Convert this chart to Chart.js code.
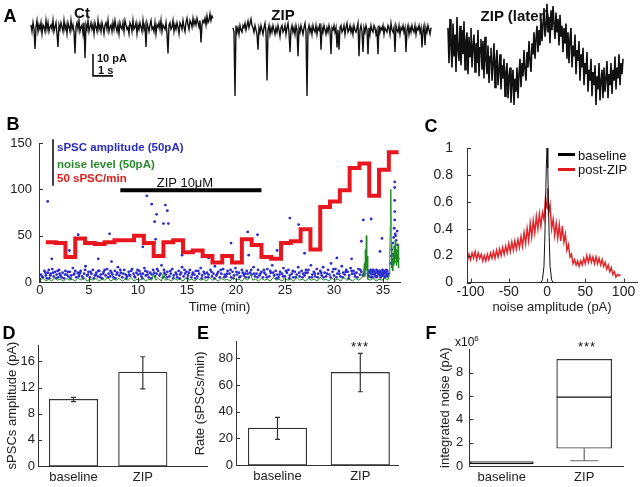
<!DOCTYPE html>
<html><head><meta charset="utf-8">
<script src="https://cdn.jsdelivr.net/npm/chart.js@4.4.1/dist/chart.umd.min.js"></script>
<style>
html,body{margin:0;padding:0;background:#fff;}
#wrap{position:relative;width:640px;height:487px;overflow:hidden;font-family:'Liberation Sans',Arial,sans-serif;color:#111;}
canvas{position:absolute;}
.t{position:absolute;white-space:nowrap;transform:translate(-50%,-50%);line-height:1;}
.l{position:absolute;white-space:nowrap;transform:translate(0,-50%);line-height:1;}
.b{font-weight:bold;}
.pl{font-weight:bold;font-size:18px;color:#000;}
.sw{position:absolute;height:3px;}
</style></head><body><div id="wrap">
<canvas id="cA" width="640" height="110" style="left:0;top:0"></canvas>
<canvas id="cB" width="410" height="210" style="left:0;top:110px"></canvas>
<canvas id="cC" width="220" height="210" style="left:420px;top:110px"></canvas>
<canvas id="cD" width="215" height="177" style="left:0;top:310px"></canvas>
<canvas id="cE" width="230" height="177" style="left:185px;top:310px"></canvas>
<canvas id="cF" width="220" height="177" style="left:420px;top:310px"></canvas>

<div class="t pl" style="left:10px;top:16px">A</div>
<div class="t b" style="left:82px;top:12px;font-size:15px">Ct</div>
<div class="t b" style="left:283px;top:14px;font-size:15px">ZIP</div>
<div class="t b" style="left:515px;top:15px;font-size:15px">ZIP (later)</div>
<div class="l b" style="left:97px;top:58px;font-size:11px">10 pA</div>
<div class="l b" style="left:98px;top:70px;font-size:11px">1 s</div>

<div class="t pl" style="left:13px;top:124px">B</div>
<div class="l b" style="left:57px;top:148px;font-size:11.5px;color:#2b2bc0">sPSC amplitude (50pA)</div>
<div class="l b" style="left:57px;top:165px;font-size:11.5px;color:#2a8a2a">noise level (50pA)</div>
<div class="l b" style="left:57px;top:179px;font-size:11.5px;color:#e01b1b">50 sPSC/min</div>
<div class="t" style="left:185px;top:182px;font-size:13px">ZIP 10&mu;M</div>

<div class="t pl" style="left:431px;top:126px">C</div>
<div class="sw" style="left:558px;top:153px;width:17px;background:#000"></div>
<div class="l" style="left:578px;top:154.5px;font-size:13px">baseline</div>
<div class="sw" style="left:558px;top:167.5px;width:17px;background:#e01b1b"></div>
<div class="l" style="left:578px;top:169px;font-size:13px">post-ZIP</div>

<div class="t pl" style="left:9px;top:333px">D</div>
<div class="t pl" style="left:203px;top:333px">E</div>
<div class="t pl" style="left:431px;top:333px">F</div>
<div class="t" style="left:360px;top:346px;font-size:13px;letter-spacing:1px">***</div>
<div class="t" style="left:587px;top:346px;font-size:13px;letter-spacing:1px">***</div>
<div class="l" style="left:455px;top:341px;font-size:12px">x10<span style="font-size:8px;vertical-align:5px">6</span></div>
</div>
<script>
// ---------- DATA ----------
// Panel A: current traces (pA, relative to trace baseline), sampled every 0.05 s
const sampleDt = 0.05;
const ctTrace = [
 1,-2,2,-1,-10,0,3,-2,1,-1, 2,-3,1,0,-2,3,-1,2,-2,0, 1,-1,3,-2,0,2,-3,-9,1,-1,
 2,0,-2,3,-1,1,-3,2,0,-2, 3,-1,1,-2,-12,0,2,-1,3,-2, 0,1,-3,2,-14,1,-1,3,-2,0,
 2,-1,1,-3,2,0,-2,3,-1,1, -2,2,0,-3,1,2,-1,3,-2,0, 1,-2,2,-1,3,0,-2,1,-3,2,
 0,-1,2,-2,3,1,-1,0,-3,2, 1,-2,3,-1,0,2,-3,1,-1,2, 0,-2,3,-1,1,-9,2,0,-2,1,
 3,-1,0,-2,2,-3,1,0,2,-1, 3,-2,1,0,-1,2,-3,-12,1,2, -1,0,3,-2,1,-1,2,0,-3,2,
 1,-1,3,0,-2,2,4,1,-1,3, 2,0,4,1,3,1,4,2,0,3, -7,1,3,2,4,1,5,2,3,6, 3,5,4];
const zipTrace = [
 1,-1,-30,2,-1,1,-2,2,0,-1, 2,1,3,0,2,4,1,3,5,2, 1,-1,2,0,-2,-9,1,-1,2,0,
 -2,1,3,-1,-23,0,2,-2,1,-1, 2,0,-2,1,-1,2,0,-3,1,2, -1,0,2,-2,1,3,-1,-10,0,2,
 -1,1,-2,2,0,-12,1,-1,2,0, -2,1,3,-1,-30,0,2,-1,1,-2, 2,0,-1,2,-2,1,0,3,-9,1,
 -1,2,0,-2,1,-1,2,0,-11,1, 0,2,-1,1,-8,0,-9,1,2,-1, 0,2,-2,1,3,-1,0,2,-1,1,
 -2,2,0,-1,1,3,-12,0,2,-1, -10,1,-1,2,0,-11,1,-2,2,0, -1,2,1,-2,0,-11,2,-1,1,0,
 2,-2,1,0,-1,2,1,-2,3,0, -1,1,-10,2,0,-1,2,-2,1,0, 2,-1,1,-10,0,2,-2,1,-1,2,
 0,-1,2,-2,1,0,2,-1,1,-8, 0,2,-7,1,-1,2,0,-2,1];
const zipLaterTrace = [
 10,-6,14,2,-8,12,-3,7,-10,15,0,-5,11,
 -7,9,-2,13,-9,4,8,-11,6,-3,10,-8,2,
 7,-10,3,-6,9,-12,1,5,-9,4,-13,6,-4,
 -11,2,-15,-3,1,-14,-6,3,-17,-5,0,-16,-9,
 -2,-18,-7,-13,-4,-21,-10,-6,-22,-12,-8,-24,-15,
 -9,-25,-13,-19,-8,-22,-11,-4,-17,-6,-12,0,-9,
 -14,-1,-8,4,-5,-10,3,-2,8,-4,5,11,-1,
 9,2,14,4,12,19,6,10,21,8,15,3,18,
 9,20,12,5,17,8,14,2,16,6,11,-1,10,
 3,12,-4,8,-6,5,10,-8,2,-3,7,-11,0,
 -5,4,-14,-2,-8,1,-16,-6,-11,-1,-19,-9,-14,
 -4,-21,-10,-16,-7,-25,-12,-18,-6,-23,-14,-9,-22,
 -8,-19,-13,-5,-22,-11,-16,-6,-20,-9,-14,-3,-18,
 -8,-13,-2,-16,-6,-11,-4];
const scaleBarPA = 10, scaleBarS = 1;

// Panel B
const bTicksX = [0,5,10,15,20,25,30,35];
const bTicksY = [0,50,100,150];
const rateEdges = [0.6,1.6,2.6,3.6,4.6,5.6,6.6,7.6,8.6,9.6,10.6,11.6,12.6,13.6,14.6,15.6,16.6,17.6,
  18.6,19.6,20.6,21.6,22.6,23.6,24.6,25.6,26.6,27.6,28.6,29.6,30.6,31.6,32.6,33.6,34.6,35.6,36.6];
const rateValues = [43,42,27,47,42,41,43,45,45,50,42,28,43,45,32,34,28,21,28,21,46,40,27,25,42,44,57,35,81,87,99,123,128,93,121,140];
const zipOn = [8.2, 22.6], zipBarLevel = 99;
const scaleBarB = [104, 154];
const sPSC = [
 [0.1,8],[0.3,5],[0.45,12],[0.6,7],[0.8,10],[0.95,4],[1.1,9],[1.25,14],[1.4,6],[1.55,11],[1.7,8],[1.85,5],[1.95,13],
 [2.1,7],[2.3,10],[2.45,4],[2.6,12],[2.75,8],[2.9,6],[3.05,11],[3.2,7],[3.35,15],[3.5,9],[3.7,5],[3.85,10],
 [4.0,8],[4.15,12],[4.3,6],[4.5,9],[4.65,17],[4.8,7],[4.95,11],[5.1,5],[5.25,9],[5.4,13],[5.6,7],[5.75,10],[5.9,6],
 [6.05,12],[6.2,8],[6.35,4],[6.5,11],[6.7,7],[6.85,14],[7.0,9],[7.15,6],[7.3,10],[7.5,5],[7.65,12],[7.8,8],[7.95,16],
 [8.1,7],[8.25,10],[8.4,5],[8.6,13],[8.75,8],[8.9,6],[9.05,11],[9.2,7],[9.4,14],[9.55,9],[9.7,5],[9.85,10],
 [10.0,8],[10.15,12],[10.35,6],[10.5,9],[10.65,15],[10.8,7],[10.95,11],[11.1,5],[11.25,10],[11.4,8],[11.55,13],[11.75,6],[11.9,9],
 [12.05,12],[12.2,7],[12.4,18],[12.55,5],[12.7,10],[12.85,8],[13.0,11],[13.2,6],[13.35,9],[13.5,14],[13.65,7],[13.85,10],
 [14.0,5],[14.15,12],[14.3,8],[14.5,16],[14.65,6],[14.8,9],[14.95,11],[15.1,7],[15.3,13],[15.45,5],[15.6,10],[15.75,8],[15.9,12],
 [16.05,6],[16.25,9],[16.4,15],[16.55,7],[16.7,11],[16.9,5],[17.05,10],[17.2,8],[17.4,13],[17.55,6],[17.7,9],[17.85,17],
 [18.0,7],[18.2,11],[18.35,5],[18.5,9],[18.7,14],[18.85,8],[19.0,6],[19.15,12],[19.35,9],[19.5,5],[19.65,11],[19.8,7],[19.95,15],
 [20.1,8],[20.3,10],[20.45,6],[20.6,13],[20.8,7],[20.95,9],[21.1,12],[21.3,5],[21.45,10],[21.6,8],[21.8,16],[21.95,6],
 [22.1,9],[22.25,13],[22.4,7],[22.6,11],[22.75,5],[22.9,10],[23.05,8],[23.2,14],[23.4,6],[23.55,10],[23.7,18],[23.9,7],
 [24.05,12],[24.2,8],[24.35,5],[24.5,11],[24.7,9],[24.85,15],[25.0,6],[25.2,10],[25.35,13],[25.5,7],[25.7,9],[25.85,5],
 [26.0,11],[26.2,8],[26.35,16],[26.5,6],[26.7,12],[26.85,9],[27.0,7],[27.15,13],[27.3,10],[27.5,5],[27.65,18],[27.8,8],[27.95,11],
 [28.1,6],[28.25,14],[28.4,9],[28.6,12],[28.75,7],[28.9,16],[29.05,10],[29.2,6],[29.4,13],[29.55,8],[29.7,20],[29.85,11],
 [30.0,7],[30.15,14],[30.35,9],[30.5,12],[30.65,6],[30.8,17],[30.95,10],[31.1,8],[31.25,13],[31.4,11],[31.55,7],[31.7,15],[31.85,9],
 [32.0,12],[32.15,6],[32.3,10],[32.5,14],[32.65,8],[32.8,11],[32.95,7],
 [33.45,9],[33.55,12],[33.6,6],[33.7,10],[33.75,13],[33.85,8],[33.9,11],[33.95,5],[34.05,9],[34.1,12],[34.2,7],[34.25,10],[34.35,13],
 [34.4,6],[34.5,9],[34.55,11],[34.65,8],[34.7,12],[34.8,6],[34.85,10],[34.95,13],[35.0,7],[35.1,9],[35.15,12],[35.25,6],[35.3,10],
 [35.4,8],[35.45,12],[35.55,9],
 [35.8,20],[35.85,28],[35.9,35],[35.95,24],[36.0,42],[36.05,30],[36.1,48],[36.15,22],[36.2,38],[36.25,52],[36.3,27],[36.35,45],
 [36.4,33],[36.45,55],[36.5,40],[36.55,25],
 [0.2,6],[0.55,10],[0.7,4],[0.9,13],[1.05,7],[1.35,10],[1.65,4],[1.8,12],[2.0,9],[2.2,5],[2.55,8],[2.85,11],[3.1,4],[3.45,8],
 [3.6,12],[3.95,6],[4.1,10],[4.4,4],[4.6,13],[4.9,8],[5.15,11],[5.5,4],[5.7,8],[5.95,12],[6.15,5],[6.45,9],[6.6,13],[6.95,5],
 [7.2,12],[7.4,8],[7.7,4],[7.9,10],[8.2,13],[8.5,9],[8.8,4],[9.1,8],[9.3,12],[9.65,6],[9.95,13],[10.25,9],[10.45,4],[10.75,12],
 [11.0,8],[11.35,4],[11.65,10],[11.95,14],[12.3,9],[12.65,13],[12.95,5],[13.3,12],[13.6,4],[13.95,8],[14.25,4],[14.4,10],
 [14.75,13],[15.05,4],[15.2,10],[15.55,8],[15.85,4],[16.15,12],[16.5,4],[16.8,9],[17.15,5],[17.5,11],[17.8,4],[18.1,9],
 [18.45,13],[18.8,5],[19.1,9],[19.45,13],[19.75,4],[20.05,11],[20.35,5],[20.7,10],[21.0,5],[21.2,9],[21.55,13],[21.85,9],
 [22.2,5],[22.5,9],[22.85,13],[23.15,5],[23.5,12],[23.8,10],[24.15,4],[24.45,8],[24.8,6],[25.1,12],[25.45,4],[25.8,12],
 [26.1,5],[26.45,10],[26.8,5],[27.1,10],[27.4,13],[27.75,5],[28.05,9],[28.35,5],[28.7,10],[28.95,5],[29.3,9],[29.65,5],
 [29.95,14],[30.25,5],[30.55,9],[30.9,5],[31.2,11],[31.5,4],[31.8,12],[32.1,9],[32.4,5],[32.7,13],[33.05,9],[33.5,7],
 [33.65,11],[33.8,5],[34.0,13],[34.15,8],[34.3,5],[34.45,12],[34.6,10],[34.75,5],[34.9,8],[35.05,11],[35.2,5],[35.35,13],[35.5,6],
 [0.79,87],[1.2,25],[3.0,34],[3.9,51],[5.95,25],[7.1,52],[7.3,22],[10.5,38],[10.9,93],[11.4,84],[11.7,65],[11.7,42],[11.8,46],
 [11.9,73],[12.6,63],[12.8,83],[13.0,77],[13.1,63],[14.5,29],[17.2,26],[18.7,28],[19.5,42],[21.2,54],[21.3,29],[22.2,51],
 [24.2,34],[25.5,69],[26.4,62],[27.0,31],[30.3,26],[31.8,25],[32.8,44],[33.0,67],[33.8,68],[34.7,33],[34.9,47],
 [36.2,108],[36.2,102],[36.2,88],[36.2,76],[36.2,67],[36.15,58],[36.3,50]
];
const noiseLevel = [
 [0,2],[0.3,4],[0.6,1],[0.9,3],[1.2,1],[1.5,5],[1.8,2],[2.1,3],[2.4,1],[2.7,4],[3.0,2],[3.3,3],[3.6,1],[3.9,4],[4.2,2],[4.5,5],
 [4.8,1],[5.1,3],[5.4,2],[5.7,4],[6.0,1],[6.3,3],[6.6,2],[6.9,5],[7.2,1],[7.5,3],[7.8,2],[8.1,4],[8.4,1],[8.7,3],[9.0,2],[9.3,5],
 [9.6,1],[9.9,3],[10.2,2],[10.5,4],[10.8,1],[11.1,3],[11.4,2],[11.6,9],[11.8,2],[12.1,4],[12.4,1],[12.6,10],[12.8,2],[13.1,3],
 [13.4,1],[13.7,4],[14.0,2],[14.3,3],[14.6,1],[14.9,5],[15.2,2],[15.5,3],[15.8,1],[16.1,4],[16.4,2],[16.7,3],[17.0,1],[17.3,5],
 [17.6,2],[17.9,3],[18.2,1],[18.5,4],[18.8,2],[19.1,3],[19.4,1],[19.7,5],[20.0,2],[20.3,3],[20.6,1],[20.9,4],[21.2,2],[21.5,8],
 [21.7,2],[22.0,3],[22.3,1],[22.6,4],[22.9,2],[23.2,3],[23.5,1],[23.8,5],[24.1,2],[24.4,3],[24.7,1],[25.0,4],[25.3,2],[25.6,3],
 [25.9,1],[26.2,5],[26.5,2],[26.8,3],[27.1,1],[27.4,4],[27.7,2],[28.0,3],[28.3,1],[28.6,5],[28.9,2],[29.2,3],[29.5,1],[29.8,4],
 [30.1,2],[30.4,3],[30.7,1],[31.0,5],[31.3,2],[31.6,3],[31.9,1],[32.2,4],[32.5,2],[32.8,4],[33.0,8],[33.1,20],[33.15,6],[33.2,35],
 [33.25,12],[33.3,50],[33.35,15],[33.4,28],[33.45,3],[33.7,2],[34.0,4],[34.3,1],[34.6,3],[34.9,2],[35.2,4],[35.5,2],[35.65,8],
 [35.7,30],[35.75,60],[35.8,100],[35.85,40],[35.9,15],[35.95,25],[36.0,12],[36.05,30],[36.1,18],[36.15,38],[36.2,20],[36.25,45],
 [36.3,25],[36.35,35],[36.4,18],[36.45,30],[36.5,22],[36.55,40],[36.6,15]
];

// Panel C: noise amplitude distributions
const cTicksX = [-100,-50,0,50,100];
const cTicksY = [0,0.2,0.4,0.6,0.8,1];
const cTickLabelsY = ['0','0.2','0.4','0.6','0.8','1'];
const baselineDist = [[-12,0],[-8,0],[-6,0.02],[-4,0.12],[-3,0.3],[-2,0.55],[-1,0.85],[0,1],[1,0.85],[2,0.55],[3,0.3],[4,0.12],[6,0.02],[8,0],[12,0]];
const postZipDist = [
 [-104,0.16],[-102,0.21],[-100,0.17],[-98,0.22],[-96,0.18],[-94,0.23],[-92,0.17],[-90,0.22],[-88,0.18],[-86,0.21],[-84,0.16],
 [-82,0.20],[-80,0.16],[-78,0.21],[-76,0.17],[-74,0.22],[-72,0.18],[-70,0.23],[-68,0.18],[-66,0.24],[-64,0.19],[-62,0.25],
 [-60,0.20],[-58,0.26],[-56,0.21],[-54,0.27],[-52,0.22],[-50,0.29],[-48,0.23],[-46,0.30],[-44,0.24],[-42,0.31],[-40,0.25],
 [-38,0.32],[-36,0.26],[-34,0.34],[-32,0.27],[-30,0.37],[-28,0.29],[-26,0.40],[-24,0.31],[-22,0.44],[-20,0.34],[-18,0.46],
 [-16,0.37],[-14,0.49],[-12,0.40],[-10,0.51],[-8,0.42],[-6,0.52],[-4,0.47],[-2,0.63],[0,0.55],[1,0.70],[2,0.52],[4,0.58],
 [6,0.40],[8,0.47],[10,0.35],[12,0.44],[14,0.33],[16,0.43],[18,0.31],[20,0.42],[22,0.30],[24,0.36],[26,0.24],[28,0.28],
 [30,0.19],[32,0.21],[34,0.14],[36,0.17],[38,0.13],[40,0.16],[42,0.12],[44,0.16],[46,0.13],[48,0.18],[50,0.14],[52,0.20],
 [54,0.15],[56,0.20],[58,0.15],[60,0.19],[62,0.14],[64,0.19],[66,0.14],[68,0.18],[70,0.13],[72,0.17],[74,0.12],[76,0.15],
 [78,0.10],[80,0.13],[82,0.08],[84,0.11],[86,0.06],[88,0.08],[90,0.04],[92,0.06],[94,0.05],[96,0.06]
];

// Panels D-F
const groups = ['baseline','ZIP'];
const dTicksY = [0,4,8,12,16];
const dAmp = [10.2, 14.35], dLo = [9.85, 11.8], dHi = [10.5, 16.7];
const eTicksY = [0,20,40,60,80];
const eRate = [27.7, 69.4], eLo = [19.2, 54.9], eHi = [35.7, 83.7];
const fTicksY = [0,2,4,6,8];
const fQ1 = [0.17, 1.52], fMed = [0.22, 5.9], fQ3 = [0.37, 9.14], fMin = [0.17, 0.45], fMax = [0.37, 9.14];

// ---------- LAYOUT / STYLE ----------
Chart.defaults.font.family = "'Liberation Sans', Arial, sans-serif";
Chart.defaults.color = '#222';
Chart.defaults.animation = false;
Chart.defaults.responsive = false;
Chart.defaults.events = [];
Chart.defaults.plugins.legend.display = false;
Chart.defaults.plugins.tooltip.enabled = false;

const AX = '#333';
function ax(o) {
  const base = {
    type: 'linear', offset: false,
    grid: {display: false, drawTicks: false, tickLength: 0},
    border: {display: true, color: AX, width: 1},
    ticks: {font: {size: 13}, color: '#222', autoSkip: false, maxRotation: 0, padding: 3},
  };
  const r = Object.assign({}, base, o);
  r.ticks = Object.assign({}, base.ticks, o.ticks || {});
  if (o.tickVals) {
    r.afterBuildTicks = s => { s.ticks = o.tickVals.map(v => ({value: v})); };
    if (o.tickLabels) r.ticks.callback = (v, i) => o.tickLabels[i];
  }
  if (o.w !== undefined) r.afterFit = s => { s.width = o.w; };
  if (o.h !== undefined) r.afterFit = s => { s.height = o.h; };
  return r;
}
const inTicks = {
  id: 'inTicks',
  afterDraw(chart, args, opts) {
    const ctx = chart.ctx; ctx.save(); ctx.strokeStyle = AX; ctx.lineWidth = 1;
    (opts.axes || []).forEach(id => {
      const s = chart.scales[id];
      s.ticks.forEach(t => {
        const p = Math.round(s.getPixelForValue(t.value)) + 0.5;
        ctx.beginPath();
        if (s.isHorizontal()) { ctx.moveTo(p, s.top); ctx.lineTo(p, s.top - opts.len); }
        else { ctx.moveTo(s.right, p); ctx.lineTo(s.right + opts.len, p); }
        ctx.stroke();
      });
    });
    ctx.restore();
  }
};
const errBars = {
  id: 'errBars',
  afterDatasetsDraw(chart, args, opts) {
    if (!opts.lo) return;
    const {x, y} = chart.scales; const ctx = chart.ctx;
    ctx.save(); ctx.strokeStyle = '#333'; ctx.lineWidth = 1.2;
    opts.lo.forEach((lo, i) => {
      const px = x.getPixelForValue(i + 1), y1 = y.getPixelForValue(lo), y2 = y.getPixelForValue(opts.hi[i]);
      ctx.beginPath();
      ctx.moveTo(px, y1); ctx.lineTo(px, y2);
      ctx.moveTo(px - opts.cap, y1); ctx.lineTo(px + opts.cap, y1);
      ctx.moveTo(px - opts.cap, y2); ctx.lineTo(px + opts.cap, y2);
      ctx.stroke();
    });
    ctx.restore();
  }
};
const boxDetails = {
  id: 'boxDetails',
  afterDatasetsDraw(chart, args, opts) {
    if (!opts.med) return;
    const {x, y} = chart.scales; const ctx = chart.ctx;
    ctx.save();
    opts.med.forEach((m, i) => {
      const px = x.getPixelForValue(i + 1), hw = opts.widths[i] / 2;
      ctx.strokeStyle = '#111'; ctx.lineWidth = 1.2;
      ctx.beginPath(); ctx.moveTo(px - hw, y.getPixelForValue(m)); ctx.lineTo(px + hw, y.getPixelForValue(m)); ctx.stroke();
      ctx.strokeStyle = '#666'; ctx.lineWidth = 1.2;
      if (opts.min[i] < opts.q1[i]) {
        const a = y.getPixelForValue(opts.q1[i]), b = y.getPixelForValue(opts.min[i]);
        ctx.beginPath(); ctx.moveTo(px, a); ctx.lineTo(px, b);
        ctx.moveTo(px - opts.cap, b); ctx.lineTo(px + opts.cap, b); ctx.stroke();
      }
      if (opts.max[i] > opts.q3[i]) {
        const a = y.getPixelForValue(opts.q3[i]), b = y.getPixelForValue(opts.max[i]);
        ctx.beginPath(); ctx.moveTo(px, a); ctx.lineTo(px, b);
        ctx.moveTo(px - opts.cap, b); ctx.lineTo(px + opts.cap, b); ctx.stroke();
      }
    });
    ctx.restore();
  }
};

// ---------- Panel A ----------
const traceLayout = [
  {data: ctTrace, t0: 1.55, y0: -12.3, w: 1.4},
  {data: zipTrace, t0: 11.65, y0: -13.6, w: 1.4},
  {data: zipLaterTrace, t0: 22.4, y0: -22.7, w: 1.6},
];
const barOrigin = {t: 4.65, y: -24.5};
new Chart(document.getElementById('cA'), {
  type: 'line',
  data: {datasets: traceLayout.map(tr => ({
      data: tr.data.map((v, i) => ({x: tr.t0 + i * sampleDt, y: tr.y0 + v})),
      borderColor: '#111', borderWidth: tr.w, pointRadius: 0, tension: 0
    })).concat([{
      data: [{x: barOrigin.t, y: barOrigin.y}, {x: barOrigin.t, y: barOrigin.y - scaleBarPA}, {x: barOrigin.t + scaleBarS, y: barOrigin.y - scaleBarPA}],
      borderColor: '#111', borderWidth: 1.6, pointRadius: 0
    }])},
  options: {
    layout: {padding: 0},
    scales: {x: {type: 'linear', display: false, min: 0, max: 32}, y: {type: 'linear', display: false, min: -50, max: 0}}
  }
});

// ---------- Panel B ----------
const rateSteps = rateEdges.map((t, i) => ({x: t, y: rateValues[Math.min(i, rateValues.length - 1)]}));
new Chart(document.getElementById('cB'), {
  type: 'line',
  data: {datasets: [
    {data: rateSteps, borderColor: '#e8171f', borderWidth: 4, pointRadius: 0, stepped: 'before'},
    {data: [{x: zipOn[0], y: zipBarLevel}, {x: zipOn[1], y: zipBarLevel}], borderColor: '#000', borderWidth: 4, pointRadius: 0},
    {data: [{x: 1.33, y: scaleBarB[0]}, {x: 1.33, y: scaleBarB[1]}], borderColor: '#000', borderWidth: 1.5, pointRadius: 0, clip: false},
    {data: noiseLevel.map(p => ({x: p[0], y: p[1]})), borderColor: '#1f8a1f', borderWidth: 1, pointRadius: 0},
    {data: sPSC.map(p => ({x: p[0], y: p[1]})), showLine: false, pointRadius: 1.4, pointBorderWidth: 0, pointBackgroundColor: '#2b2bd0'}
  ]},
  options: {
    layout: {padding: {top: 33, right: 10, left: 0, bottom: 0}},
    scales: {
      x: ax({min: -0.1, max: 36.74, tickVals: bTicksX, h: 38, ticks: {padding: 1},
        title: {display: true, text: 'Time (min)', font: {size: 13}, color: '#222', padding: {top: 0, bottom: 5}}}),
      y: ax({min: 0, max: 150, tickVals: bTicksY, w: 39, ticks: {padding: 7}})
    },
    plugins: {inTicks: {axes: ['x', 'y'], len: 4}}
  },
  plugins: [inTicks]
});

// ---------- Panel C ----------
new Chart(document.getElementById('cC'), {
  type: 'line',
  data: {datasets: [
    {data: baselineDist.map(p => ({x: p[0], y: p[1]})), borderColor: '#111', borderWidth: 1, pointRadius: 0},
    {data: postZipDist.map(p => ({x: p[0], y: p[1]})), borderColor: '#e0262b', borderWidth: 1.5, pointRadius: 0}
  ]},
  options: {
    layout: {padding: {top: 38, right: 3, left: 0, bottom: 0}},
    scales: {
      x: ax({min: -104.6, max: 117.6, tickVals: cTicksX, h: 37.5, ticks: {padding: 1, font: {size: 14}},
        title: {display: true, text: 'noise amplitude (pA)', font: {size: 13}, color: '#222', padding: {top: 0, bottom: 5}}}),
      y: ax({min: 0, max: 1, tickVals: cTicksY, tickLabels: cTickLabelsY, w: 47, ticks: {padding: 14, font: {size: 14}}})
    },
    plugins: {inTicks: {axes: ['x', 'y'], len: 4}}
  },
  plugins: [inTicks]
});

// ---------- Panels D, E, F ----------
function barPanel(id, cfg) {
  new Chart(document.getElementById(id), {
    type: 'bar',
    data: {datasets: cfg.datasets},
    options: {
      layout: {padding: cfg.pad},
      scales: {
        x: ax({min: cfg.xMin, max: cfg.xMax, tickVals: [1, 2], tickLabels: groups, h: cfg.xh, ticks: {padding: 4}}),
        y: ax({min: 0, max: cfg.yMax, tickVals: cfg.yTicks, w: cfg.yw, ticks: {padding: cfg.tickPad},
          title: {display: true, text: cfg.title, font: {size: 13}, color: '#222', padding: {top: cfg.titlePad, bottom: 0}}})
      },
      plugins: {inTicks: {axes: ['y'], len: 4}, errBars: cfg.err || {}, boxDetails: cfg.box || {}}
    },
    plugins: [inTicks, errBars, boxDetails]
  });
}
const barStyle = {backgroundColor: '#fff', borderColor: '#333', borderWidth: 1.2, borderSkipped: false};
barPanel('cD', {
  datasets: [Object.assign({data: dAmp.map((v, i) => ({x: i + 1, y: v})), barThickness: 48.5}, barStyle)],
  pad: {top: 35, right: 8, left: 0, bottom: 0}, xMin: 0.488, xMax: 2.926, xh: 21, yMax: 18.5, yTicks: dTicksY, yw: 38,
  tickPad: 3, title: 'sPSCs amplitude (pA)', titlePad: 5, err: {lo: dLo, hi: dHi, cap: 2.5}
});
barPanel('cE', {
  datasets: [Object.assign({data: eRate.map((v, i) => ({x: i + 1, y: v})), barThickness: 58.5}, barStyle)],
  pad: {top: 31.7, right: 16.7, left: 0, bottom: 0}, xMin: 0.499, xMax: 2.459, xh: 22, yMax: 92.4, yTicks: eTicksY, yw: 51,
  tickPad: 3, title: 'Rate (sPSCs/min)', titlePad: 8, err: {lo: eLo, hi: eHi, cap: 2.5}
});
const boxWidths = [63, 55];
barPanel('cF', {
  datasets: groups.map((g, i) => Object.assign({data: [{x: i + 1, y: [fQ1[i], fQ3[i]]}], barThickness: boxWidths[i], grouped: false}, barStyle)),
  pad: {top: 39.3, right: 16.7, left: 0, bottom: 0}, xMin: 0.607, xMax: 2.474, xh: 21, yMax: 10, yTicks: fTicksY, yw: 49.3,
  tickPad: 6, title: 'integrated noise (pA)', titlePad: 18,
  box: {med: fMed, q1: fQ1, q3: fQ3, min: fMin, max: fMax, widths: boxWidths, cap: 14}
});
</script>
</body></html>
